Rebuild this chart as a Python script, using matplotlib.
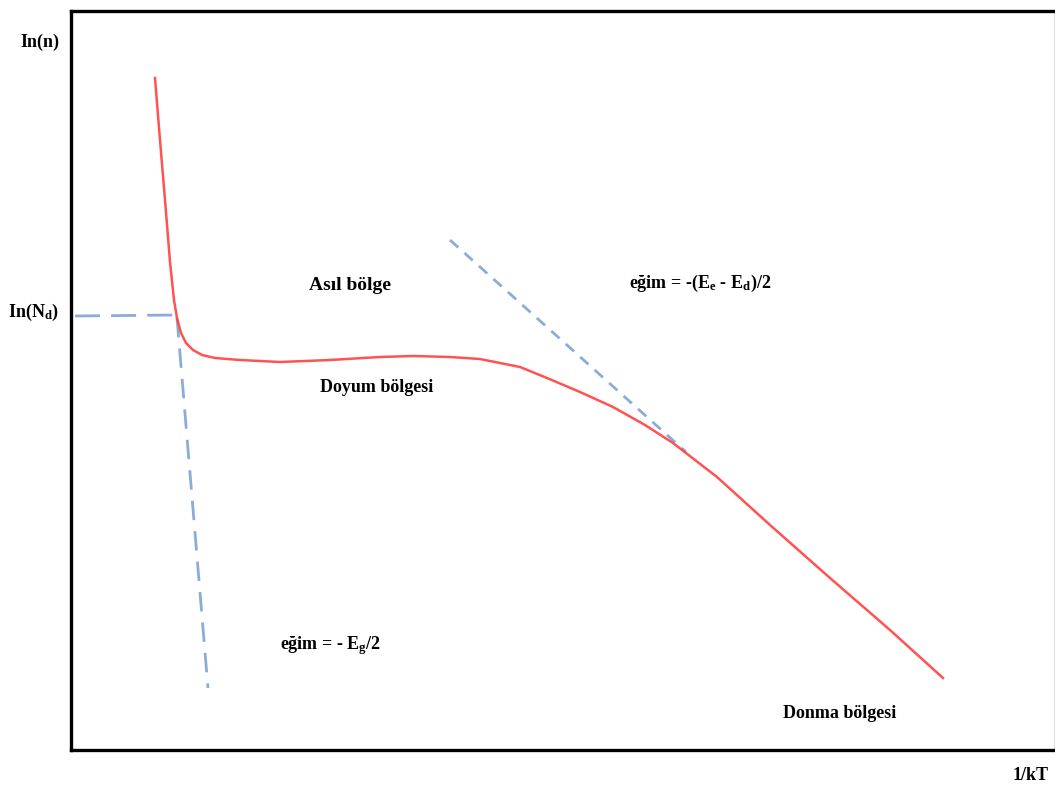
import matplotlib
matplotlib.use("Agg")
import matplotlib.pyplot as plt

plt.rcParams['font.family'] = ['Liberation Serif', 'DejaVu Serif']
plt.rcParams['font.weight'] = 'bold'
plt.rcParams['mathtext.fontset'] = 'custom'
plt.rcParams['mathtext.rm'] = 'Liberation Serif:bold'
plt.rcParams['mathtext.default'] = 'rm'

# red curve, ln(n) vs 1/kT (arbitrary units)
curve_x = [155, 160, 165, 170, 174, 177, 181, 186, 193, 202, 215, 240, 280, 330, 380, 413, 450, 480,
           520, 547, 580, 613, 645, 673, 717, 770, 830, 890, 943]
curve_y = [711, 649, 589, 527, 489, 471, 456, 446, 439, 434, 431, 429, 427, 429, 432, 433, 432, 430,
           422, 411, 397, 382, 364, 346, 312, 264, 211, 159, 111]

# dashed guide lines
nd_x = [75, 177]
nd_y = [473, 474]
eg_x = [177, 208]
eg_y = [471, 101]
ed_x = [450, 686]
ed_y = [549, 337]

fig = plt.figure(figsize=(10.55, 7.89), dpi=100)
ax = fig.add_axes([71 / 1055, 39 / 789, (1054 - 71) / 1055, (778 - 39) / 789])
ax.set_xlim(71, 1054)
ax.set_ylim(39, 778)
ax.set_xticks([])
ax.set_yticks([])
for s in ['left', 'top', 'bottom']:
    ax.spines[s].set_linewidth(2.4)
    ax.spines[s].set_color('black')
ax.spines['right'].set_linewidth(0.8)
ax.spines['right'].set_color('#dddddd')

blue = '#6f98cf'
ax.plot(nd_x, nd_y, color=blue, lw=2, alpha=0.8, dashes=(9, 4))
ax.plot(eg_x, eg_y, color=blue, lw=2, alpha=0.8, dashes=(7, 4))
ax.plot(ed_x, ed_y, color=blue, lw=2, alpha=0.8, dashes=(4, 3))
ax.plot(curve_x, curve_y, color='#ff4040', lw=1.8, alpha=0.9)

fs = 13
fig.text(40 / 1055, 1 - 42 / 789, 'In(n)', ha='center', va='center', fontsize=fs, fontweight='bold')
fig.text(33 / 1055, 1 - 312 / 789, 'In(N$_{d}$)', ha='center', va='center', fontsize=fs, fontweight='bold')
fig.text(1031 / 1055, 1 - 776 / 789, '1/kT', ha='center', va='center', fontsize=fs, fontweight='bold')

ax.text(350, 789 - 285, 'Asıl bölge', ha='center', va='center', fontsize=14, fontweight='bold')
ax.text(377, 789 - 387, 'Doyum bölgesi', ha='center', va='center', fontsize=fs, fontweight='bold')
ax.text(700, 789 - 283, 'eğim = -(E$_{e}$ - E$_{d}$)/2', ha='center', va='center', fontsize=fs, fontweight='bold')
ax.text(330, 789 - 646, 'eğim = - E$_{g}$/2', ha='center', va='center', fontsize=fs, fontweight='bold')
ax.text(840, 789 - 713, 'Donma bölgesi', ha='center', va='center', fontsize=fs, fontweight='bold')

fig.savefig('out.png', dpi=100)
